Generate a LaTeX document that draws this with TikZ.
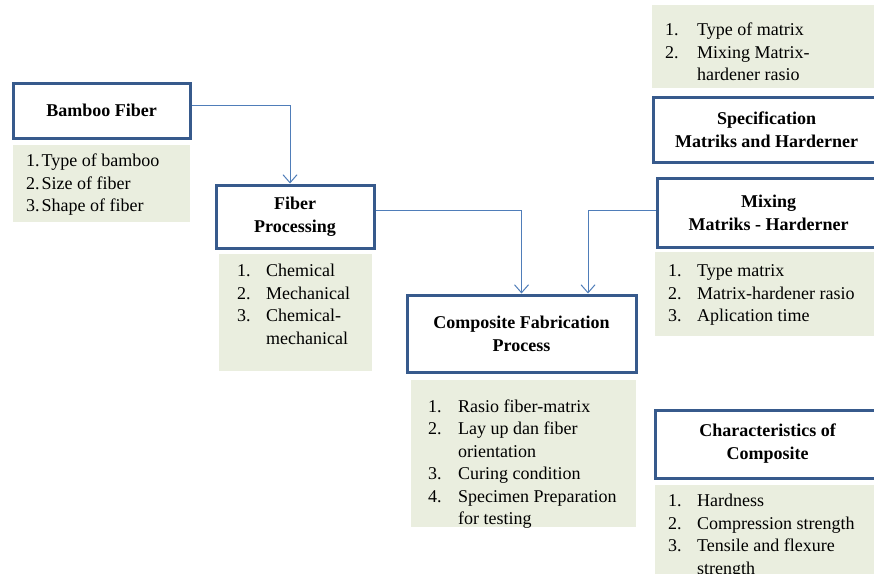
\documentclass[tikz,border=0pt]{standalone}
\usepackage{fontspec}
\setmainfont{Liberation Serif}
\usetikzlibrary{arrows.meta,calc}
\definecolor{boxblue}{RGB}{55,90,140}
\definecolor{arrowblue}{RGB}{79,125,185}
\definecolor{listgreen}{RGB}{234,238,223}
\tikzset{
  titlebox/.style={draw=boxblue, line width=3pt, fill=white, align=center,
    font=\fontsize{18}{23}\selectfont\bfseries, inner sep=0pt},
  listbox/.style={fill=listgreen, inner sep=0pt, anchor=north west},
  listtext/.style={anchor=north west, inner sep=0pt, font=\fontsize{18}{22.5}\selectfont},
  flow/.style={draw=arrowblue, line width=1pt, -{Straight Barb[length=8pt,width=14pt]}}
}
\begin{document}
\begin{tikzpicture}[x=1pt,y=-1pt]
\useasboundingbox (0,0) rectangle (874,573);
\fill[white] (0,0) rectangle (874,573);
\begin{scope}
\clip (0,0) rectangle (874,573);
% Bamboo Fiber
\node[titlebox, minimum width=177pt, minimum height=55pt] (bamboo) at (101.5,110.5) {Bamboo Fiber};
\node[listbox, minimum width=177pt, minimum height=77pt] (g1) at (13,145) {};
\node[listtext] (t1) at ($(g1.north west)+(13,6)$) {\begin{tabular}{@{}l@{\hspace{2pt}}l@{}}1. & Type of bamboo\\ 2. & Size of fiber\\ 3. & Shape of fiber\end{tabular}};
% Fiber Processing
\node[titlebox, minimum width=158pt, minimum height=63pt] (fiber) at (295,216.5) {Fiber\\Processing};
\node[listbox, minimum width=153pt, minimum height=117pt] (g2) at (219,254) {};
\node[listtext] (t2) at ($(g2.north west)+(18,7)$) {\begin{tabular}{@{}l@{\hspace{15.5pt}}l@{}}1. & Chemical\\ 2. & Mechanical\\ 3. & Chemical-\\ & mechanical\end{tabular}};
% Composite Fabrication Process
\node[titlebox, minimum width=229pt, minimum height=77pt] (comp) at (521.5,333.5) {Composite Fabrication\\Process};
\node[listbox, minimum width=225pt, minimum height=147pt] (g3) at (411,380) {};
\node[listtext] (t3) at ($(g3.north west)+(17,16.5)$) {\begin{tabular}{@{}l@{\hspace{16.5pt}}l@{}}1. & Rasio fiber-matrix\\ 2. & Lay up dan fiber\\ & orientation\\ 3. & Curing condition\\ 4. & Specimen  Preparation\\ & for testing\end{tabular}};
% Top-right list
\node[listbox, minimum width=230pt, minimum height=83pt] (g4) at (652,5) {};
\node[listtext] (t4) at ($(g4.north west)+(13,15)$) {\begin{tabular}{@{}l@{\hspace{18.5pt}}l@{}}1. & Type of matrix\\ 2. & Mixing Matrix-\\ & hardener rasio\end{tabular}};
% Specification
\node[titlebox, minimum width=227pt, minimum height=65pt] (spec) at (766.5,129.5) {Specification\\Matriks and  Harderner};
% Mixing
\node[titlebox, minimum width=223pt, minimum height=69pt] (mix) at (768.5,212.5) {Mixing\\Matriks - Harderner};
\node[listbox, minimum width=230pt, minimum height=84pt] (g5) at (655,252) {};
\node[listtext] (t5) at ($(g5.north west)+(13,9)$) {\begin{tabular}{@{}l@{\hspace{15.5pt}}l@{}}1. & Type matrix\\ 2. & Matrix-hardener rasio\\ 3. & Aplication time\end{tabular}};
% Characteristics
\node[titlebox, minimum width=225pt, minimum height=68pt] (char) at (767.5,444) {Characteristics of\\Composite};
\node[listbox, minimum width=230pt, minimum height=95pt] (g6) at (655,485) {};
\node[listtext] (t6) at ($(g6.north west)+(13,6)$) {\begin{tabular}{@{}l@{\hspace{15.5pt}}l@{}}1. & Hardness\\ 2. & Compression strength\\ 3. & Tensile and  flexure\\ & strength\end{tabular}};
% connectors
\draw[flow] ([yshift=5pt]bamboo.east) -| ([xshift=-5pt]fiber.north);
\draw[flow] ([yshift=6.5pt]fiber.east) -| (comp.north);
\draw[flow] ([yshift=2.5pt]mix.west) -| ([xshift=66.5pt]comp.north);
\end{scope}
\end{tikzpicture}
\end{document}
